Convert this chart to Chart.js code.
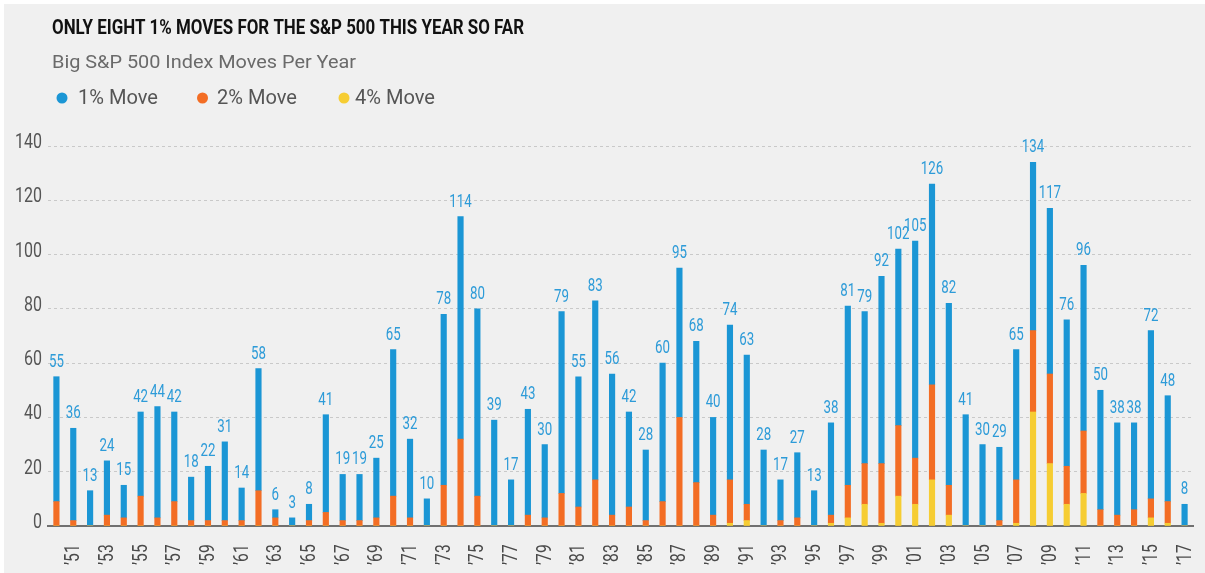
<!DOCTYPE html>
<html>
<head>
<meta charset="utf-8">
<script src="https://cdn.jsdelivr.net/npm/chart.js@4.4.1/dist/chart.umd.min.js"></script>
<style>
  body { margin: 0; background: #fff; width: 1205px; height: 573px; overflow: hidden; }
  #frame { position: absolute; left: 4px; top: 4px; width: 1201px; height: 569px; background: #f0f0f0; }
  #wrap { position: absolute; left: 0; top: 0; width: 1205px; height: 573px; }
</style>
</head>
<body>
<div id="frame"></div>
<div id="wrap"><canvas id="movesChart"></canvas></div>
<script>
// years 1950..2017
const years = [];
for (let y = 1950; y <= 2017; y++) years.push('\u2019' + String(y).slice(2));

const moves1 = [55, 36, 13, 24, 15, 42, 44, 42, 18, 22,
    31, 14, 58, 6, 3, 8, 41, 19, 19, 25,
    65, 32, 10, 78, 114, 80, 39, 17, 43, 30,
    79, 55, 83, 56, 42, 28, 60, 95, 68, 40,
    74, 63, 28, 17, 27, 13, 38, 81, 79, 92,
    102, 105, 126, 82, 41, 30, 29, 65, 134, 117,
    76, 96, 50, 38, 38, 72, 48, 8];

const moves2 = [9, 2, 0, 4, 3, 11, 3, 9, 2, 2,
    2, 2, 13, 3, 0, 2, 5, 2, 2, 3,
    11, 3, 0, 15, 32, 11, 0, 0, 4, 3,
    12, 7, 17, 4, 7, 2, 9, 40, 16, 4,
    17, 8, 0, 2, 3, 0, 4, 15, 23, 23,
    37, 25, 52, 15, 0, 0, 2, 17, 72, 56,
    22, 35, 6, 4, 6, 10, 9, 0];

const moves4 = [0, 0, 0, 0, 0, 0, 0, 0, 0, 0,
    0, 0, 0, 0, 0, 0, 0, 0, 0, 0,
    0, 0, 0, 0, 0, 0, 0, 0, 0, 0,
    0, 0, 0, 0, 0, 0, 0, 0, 0, 0,
    1, 2, 0, 0, 0, 0, 1, 3, 8, 1,
    11, 8, 17, 4, 0, 0, 0, 1, 42, 23,
    8, 12, 0, 0, 0, 3, 1, 0];

const yTicks = [0, 20, 40, 60, 80, 100, 120, 140];

const seriesNames = ['1% Move', '2% Move', '4% Move'];
const seriesColors = ['#1b96d5', '#f36d24', '#f6cd33'];

const titleText = 'ONLY EIGHT 1% MOVES FOR THE S&P 500 THIS YEAR SO FAR';
const subtitleText = 'Big S&P 500 Index Moves Per Year';

const FONT = 'Roboto, "Open Sans", sans-serif';

// stacked pieces: 4% at the bottom, then the rest of 2%, then the rest of 1%
const seg4 = moves4.slice();
const seg2 = moves2.map((v, i) => v - moves4[i]);
const seg1 = moves1.map((v, i) => v - moves2[i]);

// the reference uses a condensed face, so squeeze text horizontally
function squeezed(ctx, text, x, y, sx, align) {
    ctx.save();
    ctx.translate(x, y);
    ctx.scale(sx, 1);
    ctx.textAlign = align;
    ctx.fillText(text, 0, 0);
    ctx.restore();
}

const textLayer = {
    id: 'textLayer',
    afterDraw(chart) {
        const ctx = chart.ctx;
        const xs = chart.scales.x;
        const ys = chart.scales.y;
        ctx.save();
        ctx.textBaseline = 'alphabetic';

        // title + subtitle
        ctx.font = 'bold 20px ' + FONT;
        ctx.fillStyle = '#111';
        squeezed(ctx, titleText, 52, 33.5, 472 / ctx.measureText(titleText).width, 'left');
        ctx.font = '19px ' + FONT;
        ctx.fillStyle = '#6a6a6a';
        squeezed(ctx, subtitleText, 52, 68, 304 / ctx.measureText(subtitleText).width, 'left');

        // legend
        ctx.font = '20px ' + FONT;
        const lsx = 80 / ctx.measureText(seriesNames[0]).width;
        const dotX = [62, 202.5, 344];
        const textX = [78, 217, 355];
        seriesNames.forEach((name, i) => {
            ctx.fillStyle = seriesColors[i];
            ctx.beginPath();
            ctx.arc(dotX[i], 98, 5.5, 0, Math.PI * 2);
            ctx.fill();
            ctx.fillStyle = '#555';
            squeezed(ctx, name, textX[i], 104, lsx, 'left');
        });

        // y tick labels
        ctx.font = '20px ' + FONT;
        ctx.fillStyle = '#555';
        ctx.textBaseline = 'middle';
        yTicks.forEach(v => {
            squeezed(ctx, String(v), 42, ys.getPixelForValue(v) - 3, 0.8, 'right');
        });

        // x tick labels, every other year, reading upward
        ctx.font = '20px ' + FONT;
        ctx.fillStyle = '#4a4a4a';
        years.forEach((lab, i) => {
            if (i % 2 !== 1) return;
            ctx.save();
            ctx.translate(xs.getPixelForValue(i), 565);
            ctx.rotate(-Math.PI / 2);
            ctx.scale(0.78, 1);
            ctx.textAlign = 'left';
            ctx.textBaseline = 'middle';
            ctx.fillText(lab, 0, 1);
            ctx.restore();
        });

        // totals above bars
        ctx.font = '17.5px ' + FONT;
        ctx.fillStyle = '#2d9bd8';
        ctx.textBaseline = 'alphabetic';
        chart.getDatasetMeta(2).data.forEach((bar, i) => {
            squeezed(ctx, String(moves1[i]), bar.x, bar.y - 10, 0.76, 'center');
        });
        ctx.restore();
    }
};

new Chart(document.getElementById('movesChart'), {
    type: 'bar',
    data: {
        labels: years,
        datasets: [
            { label: seriesNames[2], data: seg4, backgroundColor: seriesColors[2] },
            { label: seriesNames[1], data: seg2, backgroundColor: seriesColors[1] },
            { label: seriesNames[0], data: seg1, backgroundColor: seriesColors[0] }
        ]
    },
    options: {
        responsive: true,
        maintainAspectRatio: false,
        animation: false,
        datasets: { bar: { barThickness: 5.5, borderWidth: 0 } },
        layout: { padding: { top: 146, right: 12, left: 0, bottom: 0 } },
        plugins: {
            legend: { display: false },
            tooltip: { enabled: false }
        },
        scales: {
            x: {
                stacked: true,
                offset: true,
                grid: { display: false, drawTicks: false },
                border: { display: true, color: '#707070', width: 2 },
                ticks: { display: false },
                afterFit: function (scale) { scale.height = 47; }
            },
            y: {
                stacked: true,
                min: 0,
                max: 140,
                grid: { color: '#c9c9c9', drawTicks: false, lineWidth: 1 },
                border: { display: false, dash: [3, 3] },
                ticks: { display: false, stepSize: 20 },
                afterFit: function (scale) { scale.width = 48; }
            }
        }
    },
    plugins: [textLayer]
});
</script>
</body>
</html>
